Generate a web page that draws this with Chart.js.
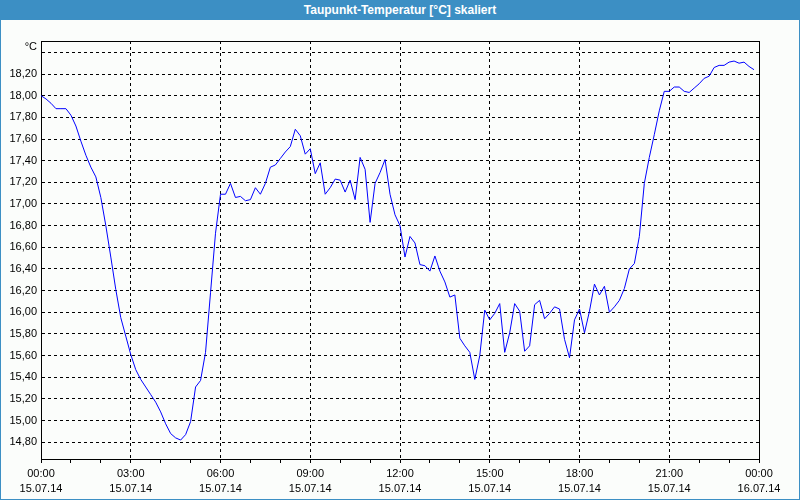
<!DOCTYPE html>
<html>
<head>
<meta charset="utf-8">
<script src="https://cdn.jsdelivr.net/npm/chart.js@4"></script>
<style>
  html, body { margin: 0; padding: 0; background: #ffffff; }
  #frame { position: relative; width: 800px; height: 500px; box-sizing: border-box;
           border: 1px solid #3c8fc4; background: #fbfdfb; overflow: hidden; }
  #title { position: absolute; left: 0; top: 0; width: 800px; height: 20px; margin-left: -1px; margin-top: -1px;
           background: #3c8fc4; color: #ffffff; font: bold 12px "Liberation Sans", Arial, sans-serif;
           line-height: 20px; text-align: center; }
  #c { position: absolute; left: -1px; top: -1px; }
</style>
</head>
<body>
<div id="frame">
  <div id="title">Taupunkt-Temperatur [°C] skaliert</div>
  <canvas id="c" width="800" height="500"></canvas>
</div>
<script>
// ---- data (10-minute samples starting 15.07.14 00:00) ----
const intervalMinutes = 10;
const values = [
  18.00, 17.97, 17.93, 17.88, 17.88, 17.88, 17.82, 17.72, 17.58, 17.45, 17.34, 17.25,
  17.06, 16.80, 16.51, 16.21, 15.95, 15.78, 15.61, 15.47, 15.38, 15.31, 15.24, 15.17,
  15.08, 14.97, 14.88, 14.84, 14.82, 14.87, 14.99, 15.31, 15.37, 15.63, 16.18, 16.73,
  17.09, 17.09, 17.19, 17.06, 17.07, 17.03, 17.04, 17.15, 17.09, 17.19, 17.34, 17.36,
  17.42, 17.48, 17.53, 17.69, 17.63, 17.46, 17.51, 17.28, 17.38, 17.09, 17.15, 17.23,
  17.22, 17.11, 17.22, 17.04, 17.43, 17.32, 16.83, 17.19, 17.29, 17.41, 17.09, 16.90,
  16.80, 16.51, 16.70, 16.64, 16.44, 16.43, 16.38, 16.52, 16.38, 16.28, 16.14, 16.16,
  15.76, 15.69, 15.63, 15.38, 15.60, 16.02, 15.93, 15.99, 16.08, 15.63, 15.81, 16.08,
  16.01, 15.64, 15.69, 16.07, 16.11, 15.94, 15.99, 16.05, 16.03, 15.75, 15.58, 15.93,
  16.03, 15.81, 16.01, 16.26, 16.16, 16.24, 16.00, 16.05, 16.11, 16.22, 16.40, 16.45,
  16.70, 17.19, 17.43, 17.64, 17.86, 18.04, 18.04, 18.08, 18.08, 18.04, 18.03, 18.07,
  18.11, 18.16, 18.18, 18.26, 18.28, 18.28, 18.31, 18.32, 18.30, 18.31, 18.27, 18.24
];
const xTickLabels = [
  ['00:00', '15.07.14'], ['03:00', '15.07.14'], ['06:00', '15.07.14'],
  ['09:00', '15.07.14'], ['12:00', '15.07.14'], ['15:00', '15.07.14'],
  ['18:00', '15.07.14'], ['21:00', '15.07.14'], ['00:00', '16.07.14']
];
const yTickValues = [14.8, 15.0, 15.2, 15.4, 15.6, 15.8, 16.0, 16.2, 16.4, 16.6,
                     16.8, 17.0, 17.2, 17.4, 17.6, 17.8, 18.0, 18.2, 18.4];
const unitLabel = '°C';
const unitTickValue = 18.4;

const points = values.map((v, i) => ({ x: i * intervalMinutes, y: v }));
const FONT = { family: '"Liberation Sans", Arial, sans-serif', size: 11 };

const framePlugin = {
  id: 'framePlugin',
  beforeDatasetsDraw(chart) {
    const { ctx, chartArea: a } = chart;
    ctx.save();
    ctx.strokeStyle = '#000000';
    ctx.lineWidth = 1;
    ctx.beginPath();
    ctx.moveTo(a.left, Math.round(a.top) + 0.5);
    ctx.lineTo(a.right + 1, Math.round(a.top) + 0.5);
    ctx.moveTo(Math.round(a.right) + 0.5, a.top);
    ctx.lineTo(Math.round(a.right) + 0.5, a.bottom + 1);
    ctx.stroke();
    ctx.fillStyle = '#000000';
    ctx.font = '11px "Liberation Sans", Arial, sans-serif';
    ctx.textAlign = 'right';
    ctx.textBaseline = 'middle';
    ctx.fillText(unitLabel, a.left - 4, a.top + 6);
    ctx.restore();
  }
};

new Chart(document.getElementById('c'), {
  type: 'line',
  data: {
    datasets: [{
      data: points,
      borderColor: '#0000ff',
      borderWidth: 1,
      pointRadius: 0,
      pointHoverRadius: 0,
      tension: 0,
      fill: false
    }]
  },
  options: {
    responsive: false,
    animation: false,
    events: [],
    layout: { padding: { top: 41, right: 41, left: 1, bottom: 1 } },
    plugins: { legend: { display: false }, tooltip: { enabled: false }, title: { display: false } },
    scales: {
      x: {
        type: 'linear',
        min: 0,
        max: 1440,
        afterFit(s) { s.height = 40; },
        ticks: {
          stepSize: 60,
          autoSkip: false,
          maxRotation: 0,
          minRotation: 0,
          padding: 3,
          color: '#000000',
          font: { ...FONT, lineHeight: 15 / 11 },
          callback: (v) => (v % 180 === 0 ? xTickLabels[v / 180] : '')
        },
        grid: {
          color: (ctx) => {
            const v = ctx.tick ? ctx.tick.value : null;
            return (v !== null && v % 180 === 0 && v !== 0 && v !== 1440) ? '#000000' : 'rgba(0,0,0,0)';
          },
          tickColor: '#000000',
          tickLength: 4,
          lineWidth: 1
        },
        border: { display: true, color: '#000000', width: 1, dash: [3, 3] }
      },
      y: {
        type: 'linear',
        min: 14.645,
        max: 18.505,
        afterFit(s) { s.width = 40; },
        afterBuildTicks(s) { s.ticks = yTickValues.map(v => ({ value: v })); },
        ticks: {
          padding: 4,
          color: '#000000',
          font: FONT,
          callback: (v) => (Math.abs(v - unitTickValue) < 1e-6 ? '' : v.toFixed(2).replace('.', ','))
        },
        grid: { color: '#000000', drawTicks: false, lineWidth: 1 },
        border: { display: true, color: '#000000', width: 1, dash: [3, 3] }
      }
    }
  },
  plugins: [framePlugin]
});
</script>
</body>
</html>
